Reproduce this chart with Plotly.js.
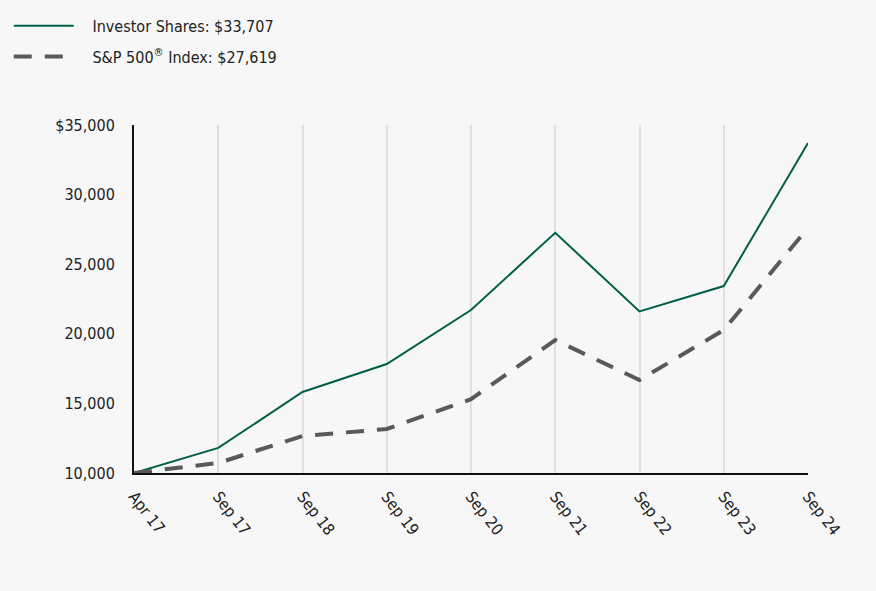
<!DOCTYPE html>
<html>
<head>
<meta charset="utf-8">
<script src="https://cdn.plot.ly/plotly-3.0.1.min.js"></script>
<style>html,body{margin:0;padding:0;background:#f7f7f7;}</style>
</head>
<body>
<div id="chart" style="width:876px;height:591px;"></div>
<script>
const categories = ["Apr 17","Sep 17","Sep 18","Sep 19","Sep 20","Sep 21","Sep 22","Sep 23","Sep 24"];
const investorShares = [10000, 11800, 15820, 17830, 21710, 27260, 21610, 23430, 33707];
const sp500 = [10000, 10720, 12660, 13160, 15300, 19550, 16680, 20270, 27619];
const yTickVals = [10000, 15000, 20000, 25000, 30000, 35000];
const yTickText = ["10,000","15,000","20,000","25,000","30,000","$35,000"];
const seriesNames = ["Investor Shares: $33,707", "S&P 500<sup>®</sup> Index: $27,619"];

const FONT = "'DejaVu Sans Condensed', 'Liberation Sans Narrow', sans-serif";
const PAD = "\u00a0\u00a0\u00a0";

const traces = [
  {x: categories, y: investorShares, name: PAD + seriesNames[0], type: "scatter", mode: "lines",
   legendgroup: "a", line: {color: "#005f48", width: 2}},
  {x: categories, y: sp500, name: PAD + seriesNames[1], type: "scatter", mode: "lines",
   legendgroup: "b", line: {color: "#595959", width: 4, dash: "18px,13px"}}
];

const layout = {
  width: 876, height: 591,
  paper_bgcolor: "#f7f7f7", plot_bgcolor: "#f7f7f7",
  margin: {l: 134, r: 68, t: 125, b: 118, autoexpand: false},
  font: {family: FONT, size: 16, color: "#222"},
  showlegend: true,
  legend: {xref: "container", yref: "container", x: 0.01, y: 0.985, xanchor: "left", yanchor: "top",
           bgcolor: "rgba(0,0,0,0)", font: {family: FONT, size: 16, color: "#222"},
           itemwidth: 60, traceorder: "grouped", tracegroupgap: 7},
  xaxis: {type: "category", range: [0, 8], showgrid: true, gridcolor: "#e0e0e0", gridwidth: 2,
          showline: true, linecolor: "#111", linewidth: 2, ticks: "", tickangle: 52,
          tickfont: {family: FONT, size: 16, color: "#222"}, zeroline: false, automargin: false,
          ticklabelstandoff: 6},
  yaxis: {range: [10000, 35000], tickvals: yTickVals, ticktext: yTickText, showgrid: false,
          showline: true, linecolor: "#111", linewidth: 2, ticks: "", zeroline: false, automargin: false,
          tickfont: {family: FONT, size: 16, color: "#222"}, ticklabelstandoff: 14}
};

Plotly.newPlot("chart", traces, layout, {displayModeBar: false, staticPlot: true});
</script>
</body>
</html>
